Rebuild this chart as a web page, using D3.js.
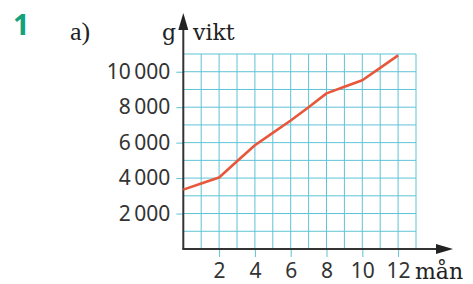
<!DOCTYPE html>
<html>
<head>
<meta charset="utf-8">
<script src="https://cdn.jsdelivr.net/npm/d3@7"></script>
<style>
  body { margin: 0; background: #fff; }
  .num { font-family: "Noto Sans", sans-serif; font-size: 21px; fill: #333; }
  .unit { font-family: "DejaVu Serif", serif; font-size: 22px; fill: #222; }
</style>
</head>
<body>
<div id="chart"></div>
<script>
// data
var months = [0, 1, 2, 3, 4, 5, 6, 7, 8, 9, 10, 11, 12];
var weights = [3350, 3700, 4030, 4950, 5850, 6550, 7250, 8000, 8780, 9150, 9520, 10220, 10920];
var xTicks = [2, 4, 6, 8, 10, 12];
var yTicks = [2000, 4000, 6000, 8000, 10000];
var yTickLabels = ["2\u2009000", "4\u2009000", "6\u2009000", "8\u2009000", "10\u2009000"];

var svgWidth = 473;
var svgHeight = 284;

var svg = d3.select("#chart").append("svg")
  .attr("width", svgWidth)
  .attr("height", svgHeight);

var x0 = 183.3, y0 = 249;

var xScale = d3.scaleLinear().domain([0, 13]).range([x0, 416]);
var yScale = d3.scaleLinear().domain([0, 11000]).range([y0, 54]);

// grid
var grid = svg.append("g").attr("stroke", "#5fc3d6").attr("stroke-width", 1);
d3.range(1, 14).forEach(function(m) {
  grid.append("line")
    .attr("x1", xScale(m)).attr("x2", xScale(m))
    .attr("y1", yScale(11000)).attr("y2", y0);
});
d3.range(1000, 11001, 1000).forEach(function(v) {
  grid.append("line")
    .attr("x1", x0).attr("x2", xScale(13))
    .attr("y1", yScale(v)).attr("y2", yScale(v));
});

// ticks outside the axes
var xAxis = d3.axisBottom(xScale).tickValues(xTicks).tickSize(8).tickPadding(7);
var gx = svg.append("g").attr("transform", `translate(0, ${y0})`).call(xAxis);
gx.select(".domain").remove();
gx.selectAll("line").attr("stroke", "#5fc3d6");
gx.selectAll("text").attr("class", "num").attr("fill", "#333").attr("dy", "0.65em");

var yAxis = d3.axisLeft(yScale).tickValues(yTicks).tickSize(7).tickPadding(6)
  .tickFormat(function(d, i) { return yTickLabels[i]; });
var gy = svg.append("g").attr("transform", `translate(${x0}, 0)`).call(yAxis);
gy.select(".domain").remove();
gy.selectAll("line").attr("stroke", "#5fc3d6");
gy.selectAll("text").attr("class", "num").attr("fill", "#333");

// axes with arrows
svg.append("line")
  .attr("x1", x0).attr("x2", x0).attr("y1", y0).attr("y2", 28)
  .attr("stroke", "#333").attr("stroke-width", 2);
svg.append("path")
  .attr("d", `M${x0},13 L${x0 - 5},30 L${x0 + 5},30 Z`)
  .attr("fill", "#222");
svg.append("line")
  .attr("x1", x0 - 1).attr("x2", 440).attr("y1", y0).attr("y2", y0)
  .attr("stroke", "#333").attr("stroke-width", 2);
svg.append("path")
  .attr("d", `M453,${y0} L436,${y0 - 5} L436,${y0 + 5} Z`)
  .attr("fill", "#222");

// the line
var line = d3.line()
  .x(function(d, i) { return xScale(months[i]); })
  .y(function(d) { return yScale(d); });

svg.append("path")
  .datum(weights)
  .attr("d", line)
  .attr("fill", "none")
  .attr("stroke", "#e8573b")
  .attr("stroke-width", 2.6)
  .attr("stroke-linejoin", "round");

// labels
svg.append("text").attr("class", "unit").attr("x", 176).attr("y", 40)
  .attr("text-anchor", "end").text("g");
svg.append("text").attr("class", "unit").attr("x", 193).attr("y", 40).text("vikt");
svg.append("text").attr("class", "unit").attr("x", 415).attr("y", 279).text("mån");
svg.append("text").attr("x", 70).attr("y", 40)
  .attr("font-family", "Liberation Serif, serif").attr("font-size", 26)
  .attr("fill", "#222").text("a)");
svg.append("text").attr("x", 13).attr("y", 35)
  .attr("font-family", "Noto Sans, sans-serif").attr("font-weight", "bold")
  .attr("font-size", 29).attr("fill", "#14a27b").text("1");
</script>
</body>
</html>
